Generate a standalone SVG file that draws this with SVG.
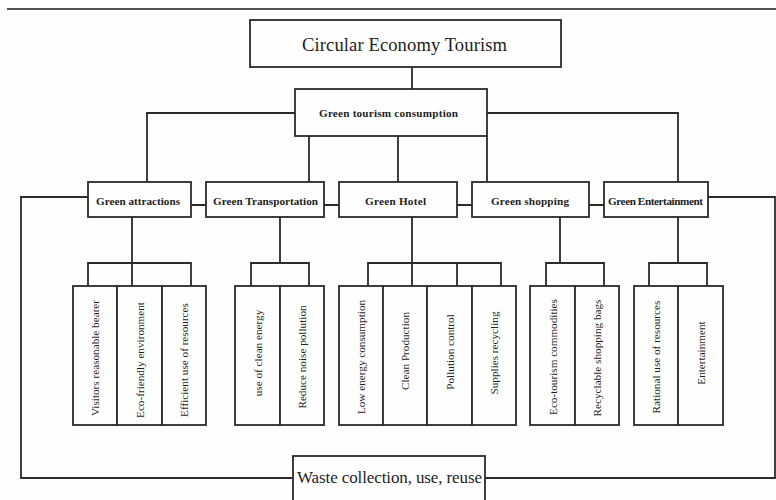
<svg xmlns="http://www.w3.org/2000/svg" width="776" height="500" viewBox="0 0 776 500">
  <style>
    .box { fill: #fefefe; stroke: #2b2b2b; stroke-width: 1.8; }
    .ln { fill: none; stroke: #2b2b2b; stroke-width: 1.8; stroke-linejoin: miter; }
    .t { font-family: "Liberation Serif", "Times New Roman", serif; fill: #1e1e1e; text-anchor: middle; }
    .title { font-size: 18.6px; }
    .cat { font-size: 11.2px; font-weight: bold; }
    .sub { font-size: 11.2px; }
  </style>
  <rect width="776" height="500" fill="#fdfdfc"/>
  <line x1="7" y1="9" x2="776" y2="9" stroke="#1a1a1a" stroke-width="1.5"/>

  <g id="connectors" class="ln">
    <!-- root to consumption -->
    <path d="M412 67 V89"/>
    <!-- consumption branches -->
    <path d="M295 113 H147 V182"/>
    <path d="M487 113 H678 V182"/>
    <path d="M309 136 V182"/>
    <path d="M398 136 V182"/>
    <path d="M487 136 V182"/>
    <!-- links between categories -->
    <path d="M191 205 H206 M324 205 H339 M457 205 H472 M589 205 H604"/>
    <!-- recycling loop -->
    <path d="M88 197 H21 V478 H293"/>
    <path d="M708 197 H775 V478 H485"/>
    <!-- category to sub items -->
    <path d="M132 217 V263 M88 286 V263 H191 V286 M132 263 V286"/>
    <path d="M280 217 V263 M251 286 V263 H309 V286"/>
    <path d="M412 217 V263 M368 286 V263 H501 V286 M412 263 V286 M457 263 V286"/>
    <path d="M560 217 V263 M546 286 V263 H604 V286"/>
    <path d="M678 217 V263 M649 286 V263 H707 V286"/>
  </g>

  <g id="root">
    <rect class="box" x="250" y="20" width="311" height="47"/>
    <text class="t title" x="404.5" y="51" textLength="205">Circular Economy Tourism</text>
  </g>

  <g id="consumption">
    <rect class="box" x="295" y="89" width="192" height="47"/>
    <text class="t cat" x="388.5" y="117" textLength="139">Green tourism consumption</text>
  </g>

  <g id="attractions">
    <rect class="box" x="88" y="182" width="103" height="35"/>
    <text class="t cat" x="138" y="205" textLength="84">Green attractions</text>
  </g>
  <g id="transportation">
    <rect class="box" x="206" y="182" width="118" height="35"/>
    <text class="t cat" x="265.5" y="205" textLength="105">Green Transportation</text>
  </g>
  <g id="hotel">
    <rect class="box" x="339" y="182" width="118" height="35"/>
    <text class="t cat" x="395.5" y="205" textLength="61">Green Hotel</text>
  </g>
  <g id="shopping">
    <rect class="box" x="472" y="182" width="117" height="35"/>
    <text class="t cat" x="530" y="205" textLength="78">Green shopping</text>
  </g>
  <g id="entertainment">
    <rect class="box" x="604" y="182" width="104" height="35"/>
    <text class="t cat" x="655.5" y="205" textLength="95">Green Entertainment</text>
  </g>

  <g id="attractions-items">
    <rect class="box" x="73" y="286" width="44" height="139"/>
    <rect class="box" x="117" y="286" width="45" height="139"/>
    <rect class="box" x="162" y="286" width="44" height="139"/>
    <text class="t sub" transform="translate(95 358) rotate(-90)" y="4">Visitors reasonable bearer</text>
    <text class="t sub" transform="translate(139.5 360) rotate(-90)" y="4">Eco-friendly environment</text>
    <text class="t sub" transform="translate(184 360) rotate(-90)" y="4">Efficient use of resources</text>
  </g>

  <g id="transportation-items">
    <rect class="box" x="235" y="286" width="45" height="139"/>
    <rect class="box" x="280" y="286" width="44" height="139"/>
    <text class="t sub" transform="translate(257.5 353) rotate(-90)" y="4">use of clean energy</text>
    <text class="t sub" transform="translate(302 357) rotate(-90)" y="4">Reduce noise pollution</text>
  </g>

  <g id="hotel-items">
    <rect class="box" x="339" y="286" width="44" height="139"/>
    <rect class="box" x="383" y="286" width="44" height="139"/>
    <rect class="box" x="427" y="286" width="45" height="139"/>
    <rect class="box" x="472" y="286" width="44" height="139"/>
    <text class="t sub" transform="translate(361 357) rotate(-90)" y="4">Low energy consumption</text>
    <text class="t sub" transform="translate(405 351) rotate(-90)" y="4">Clean Production</text>
    <text class="t sub" transform="translate(449.5 352) rotate(-90)" y="4">Pollution control</text>
    <text class="t sub" transform="translate(494 353) rotate(-90)" y="4">Supplies recycling</text>
  </g>

  <g id="shopping-items">
    <rect class="box" x="530" y="286" width="45" height="139"/>
    <rect class="box" x="575" y="286" width="44" height="139"/>
    <text class="t sub" transform="translate(552.5 357) rotate(-90)" y="4">Eco-tourism commodities</text>
    <text class="t sub" transform="translate(597 358) rotate(-90)" y="4">Recyclable shopping bags</text>
  </g>

  <g id="entertainment-items">
    <rect class="box" x="634" y="286" width="44" height="139"/>
    <rect class="box" x="678" y="286" width="45" height="139"/>
    <text class="t sub" transform="translate(656 357) rotate(-90)" y="4">Rational use of resources</text>
    <text class="t sub" transform="translate(700.5 353) rotate(-90)" y="4">Entertainment</text>
  </g>

  <g id="waste">
    <rect class="box" x="293" y="456" width="192" height="60"/>
    <text class="t title" x="389.5" y="483" style="font-size:17px" textLength="185">Waste collection, use, reuse</text>
  </g>
</svg>
